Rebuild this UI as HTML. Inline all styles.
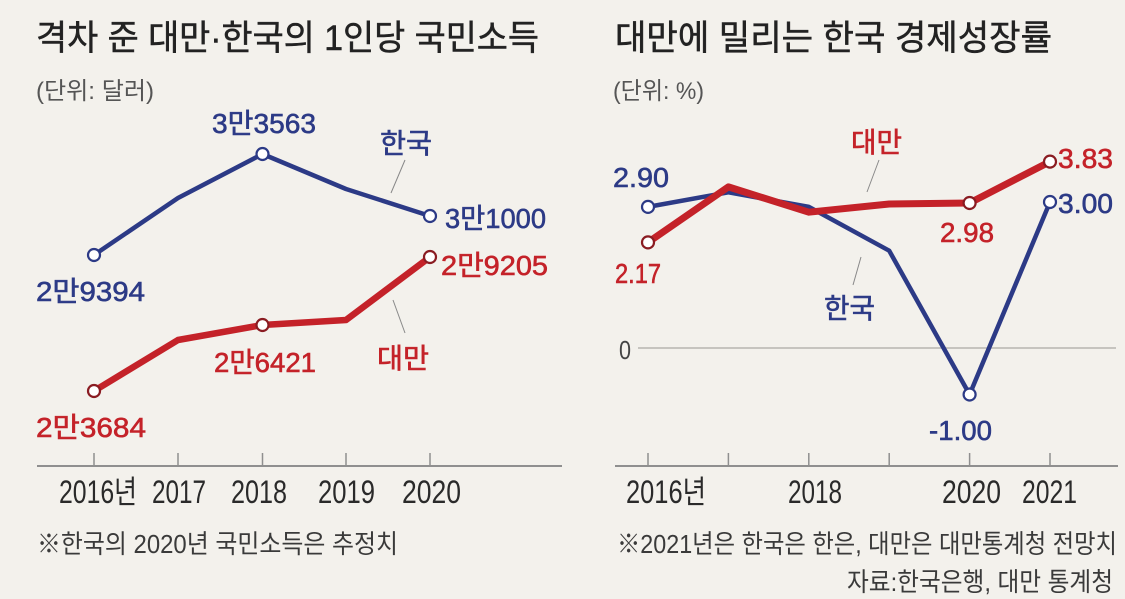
<!DOCTYPE html>
<html>
<head>
<meta charset="utf-8">
<style>
html,body{margin:0;padding:0;background:#f3f1ec;}
svg{display:block;}
text{font-family:"Liberation Sans","Noto Sans CJK KR",sans-serif;}
.t{fill:#222;font-size:35px;stroke:#222;stroke-width:0.5px;}
.u{fill:#555;font-size:24px;}
.b{fill:#2c3a86;font-size:28px;stroke:#2c3a86;stroke-width:0.6px;}
.r{fill:#c42229;font-size:28px;stroke:#c42229;stroke-width:0.6px;}
.x{fill:#2a2a2a;font-size:32px;}
.f{fill:#3a3a3a;font-size:26px;}
</style>
</head>
<body>
<svg width="1125" height="599" viewBox="0 0 1125 599" xmlns="http://www.w3.org/2000/svg">
<rect width="1125" height="599" fill="#f3f1ec"/>

<!-- LEFT CHART -->
<text class="t" x="36" y="50" textLength="503" lengthAdjust="spacingAndGlyphs">격차 준 대만·한국의 1인당 국민소득</text>
<text class="u" x="36" y="99" textLength="118" lengthAdjust="spacingAndGlyphs">(단위: 달러)</text>

<line x1="37" y1="466" x2="562" y2="466" stroke="#8f8f8f" stroke-width="2"/>
<g stroke="#8f8f8f" stroke-width="1.5">
<line x1="94" y1="453" x2="94" y2="466"/>
<line x1="178" y1="453" x2="178" y2="466"/>
<line x1="262.5" y1="453" x2="262.5" y2="466"/>
<line x1="346" y1="453" x2="346" y2="466"/>
<line x1="430" y1="453" x2="430" y2="466"/>
</g>
<text class="x" x="59" y="503" textLength="78" lengthAdjust="spacingAndGlyphs">2016년</text>
<text class="x" x="152" y="503" textLength="54" lengthAdjust="spacingAndGlyphs">2017</text>
<text class="x" x="231" y="503" textLength="56" lengthAdjust="spacingAndGlyphs">2018</text>
<text class="x" x="318" y="503" textLength="57" lengthAdjust="spacingAndGlyphs">2019</text>
<text class="x" x="402" y="503" textLength="59" lengthAdjust="spacingAndGlyphs">2020</text>

<text class="f" x="37" y="553" textLength="361" lengthAdjust="spacingAndGlyphs">※한국의 2020년 국민소득은 추정치</text>

<line x1="405" y1="160" x2="391" y2="193" stroke="#888" stroke-width="1"/>
<line x1="393" y1="300" x2="405" y2="333" stroke="#888" stroke-width="1"/>

<polyline points="94,255 178,198 262.5,154 346,189 430,216" fill="none" stroke="#2c3a86" stroke-width="4.5" stroke-linejoin="round" stroke-linecap="round"/>
<polyline points="94,391 178,340 262.5,325 346,320 430,257" fill="none" stroke="#c42229" stroke-width="6.5" stroke-linejoin="round" stroke-linecap="round"/>

<g fill="#fff" stroke-width="2.2">
<circle cx="94" cy="255" r="6" stroke="#2c3a86"/>
<circle cx="262.5" cy="154" r="6" stroke="#2c3a86"/>
<circle cx="430" cy="216" r="6" stroke="#2c3a86"/>
<circle cx="94" cy="391" r="6" stroke="#8a1c22"/>
<circle cx="262.5" cy="325" r="6" stroke="#8a1c22"/>
<circle cx="430" cy="257" r="6" stroke="#8a1c22"/>
</g>

<text class="b" x="212" y="133" textLength="104" lengthAdjust="spacingAndGlyphs">3만3563</text>
<text class="b" x="380" y="153" textLength="52" lengthAdjust="spacingAndGlyphs">한국</text>
<text class="b" x="445" y="228" textLength="101" lengthAdjust="spacingAndGlyphs">3만1000</text>
<text class="b" x="36" y="301" textLength="109" lengthAdjust="spacingAndGlyphs">2만9394</text>
<text class="r" x="441" y="275" textLength="107" lengthAdjust="spacingAndGlyphs">2만9205</text>
<text class="r" x="214" y="372" textLength="102" lengthAdjust="spacingAndGlyphs">2만6421</text>
<text class="r" x="377" y="368" textLength="52" lengthAdjust="spacingAndGlyphs">대만</text>
<text class="r" x="36" y="437" textLength="110" lengthAdjust="spacingAndGlyphs">2만3684</text>

<!-- RIGHT CHART -->
<text class="t" x="615" y="50" textLength="437" lengthAdjust="spacingAndGlyphs">대만에 밀리는 한국 경제성장률</text>
<text class="u" x="613" y="99" textLength="91" lengthAdjust="spacingAndGlyphs">(단위: %)</text>

<line x1="638" y1="348" x2="1116" y2="348" stroke="#b8b6b0" stroke-width="1.5"/>
<text x="619" y="359" font-size="26" fill="#444" textLength="12" lengthAdjust="spacingAndGlyphs">0</text>

<line x1="615" y1="466" x2="1118" y2="466" stroke="#8f8f8f" stroke-width="2"/>
<g stroke="#8f8f8f" stroke-width="1.5">
<line x1="648" y1="453" x2="648" y2="466"/>
<line x1="728.4" y1="453" x2="728.4" y2="466"/>
<line x1="808.8" y1="453" x2="808.8" y2="466"/>
<line x1="889.2" y1="453" x2="889.2" y2="466"/>
<line x1="969.6" y1="453" x2="969.6" y2="466"/>
<line x1="1050" y1="453" x2="1050" y2="466"/>
</g>
<text class="x" x="626" y="503" textLength="80" lengthAdjust="spacingAndGlyphs">2016년</text>
<text class="x" x="788" y="503" textLength="54" lengthAdjust="spacingAndGlyphs">2018</text>
<text class="x" x="942" y="503" textLength="59" lengthAdjust="spacingAndGlyphs">2020</text>
<text class="x" x="1022" y="503" textLength="55" lengthAdjust="spacingAndGlyphs">2021</text>

<text class="f" x="617" y="553" textLength="500" lengthAdjust="spacingAndGlyphs">※2021년은 한국은 한은, 대만은 대만통계청 전망치</text>
<text class="f" x="847" y="591" textLength="266" lengthAdjust="spacingAndGlyphs">자료:한국은행, 대만 통계청</text>

<line x1="879" y1="160" x2="867" y2="192" stroke="#888" stroke-width="1"/>
<line x1="861" y1="257" x2="853" y2="285" stroke="#888" stroke-width="1"/>

<polyline points="648,206.9 728.4,192.3 808.8,206.9 889.2,250.7 969.6,394.5 1050,202" fill="none" stroke="#2c3a86" stroke-width="4.5" stroke-linejoin="round" stroke-linecap="round"/>
<polyline points="648,242.4 728.4,186.9 808.8,212.2 889.2,204 969.6,203 1050,161.6" fill="none" stroke="#c42229" stroke-width="7" stroke-linejoin="round" stroke-linecap="round"/>

<g fill="#fff" stroke-width="2.2">
<circle cx="648" cy="206.9" r="6" stroke="#2c3a86"/>
<circle cx="969.6" cy="394.5" r="6" stroke="#2c3a86"/>
<circle cx="1050" cy="202" r="6" stroke="#2c3a86"/>
<circle cx="648" cy="242.4" r="6" stroke="#8a1c22"/>
<circle cx="969.6" cy="203" r="6" stroke="#8a1c22"/>
<circle cx="1050" cy="161.6" r="6" stroke="#8a1c22"/>
</g>

<text class="r" x="851" y="152" textLength="51" lengthAdjust="spacingAndGlyphs">대만</text>
<text class="b" x="613" y="187" textLength="56" lengthAdjust="spacingAndGlyphs">2.90</text>
<text class="r" x="1058" y="168" textLength="55" lengthAdjust="spacingAndGlyphs">3.83</text>
<text class="b" x="1058" y="213" textLength="55" lengthAdjust="spacingAndGlyphs">3.00</text>
<text class="r" x="940" y="242" textLength="54" lengthAdjust="spacingAndGlyphs">2.98</text>
<text class="r" x="615" y="283" textLength="46" lengthAdjust="spacingAndGlyphs">2.17</text>
<text class="b" x="824" y="318" textLength="51" lengthAdjust="spacingAndGlyphs">한국</text>
<text class="b" x="929" y="440" textLength="63" lengthAdjust="spacingAndGlyphs">-1.00</text>
</svg>
</body>
</html>
